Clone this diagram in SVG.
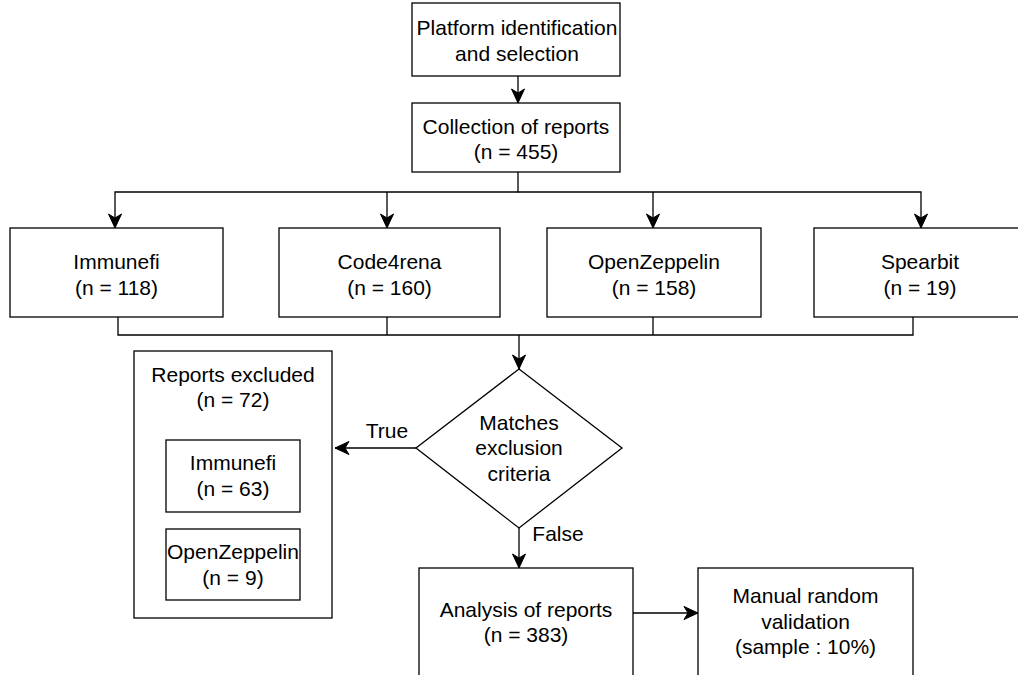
<svg xmlns="http://www.w3.org/2000/svg" width="1018" height="675" viewBox="0 0 1018 675">
<style>
.box{fill:#fff;stroke:#000;stroke-width:1.3}
.ln{fill:none;stroke:#000;stroke-width:1.3}
text{font-family:"Liberation Sans",Arial,sans-serif;font-size:21px;fill:#000;text-anchor:middle}
</style>
<defs>
<marker id="arr" markerUnits="userSpaceOnUse" markerWidth="16" markerHeight="16" viewBox="0 0 16 16" refX="15" refY="8" orient="auto">
<path d="M1,1.5 L15,8 L1,14.5 L5,8 Z" fill="#000" stroke="#000" stroke-width="1"/>
</marker>
</defs>
<rect width="1018" height="675" fill="#fff"/>
<g id="connectors">
<path class="ln" d="M518 76 V103" marker-end="url(#arr)"/>
<path class="ln" d="M518 172 V192 H115 V228" marker-end="url(#arr)"/>
<path class="ln" d="M518 192 H921 V228" marker-end="url(#arr)"/>
<path class="ln" d="M387 192 V228" marker-end="url(#arr)"/>
<path class="ln" d="M653 192 V228" marker-end="url(#arr)"/>
<path class="ln" d="M118 317 V335 H913 V317"/>
<path class="ln" d="M387 317 V335"/>
<path class="ln" d="M653 317 V335"/>
<path class="ln" d="M519 335 V369" marker-end="url(#arr)"/>
<path class="ln" d="M416 448 H335" marker-end="url(#arr)"/>
<path class="ln" d="M519 528 V568" marker-end="url(#arr)"/>
<path class="ln" d="M633 613 H698" marker-end="url(#arr)"/>
<text x="387" y="438">True</text>
<text x="558" y="541">False</text>
</g>
<g id="platform">
<rect class="box" x="412" y="3" width="208" height="73"/>
<text x="517" y="35">Platform identification</text>
<text x="517" y="61">and selection</text>
</g>
<g id="collection">
<rect class="box" x="412" y="103" width="208" height="69"/>
<text x="516" y="134">Collection of reports</text>
<text x="516" y="159">(n = 455)</text>
</g>
<g id="immunefi">
<rect class="box" x="10" y="228" width="213" height="89"/>
<text x="116.5" y="269">Immunefi</text>
<text x="116.5" y="295">(n = 118)</text>
</g>
<g id="code4rena">
<rect class="box" x="279" y="228" width="221" height="89"/>
<text x="389.5" y="269">Code4rena</text>
<text x="389.5" y="295">(n = 160)</text>
</g>
<g id="openzeppelin">
<rect class="box" x="547" y="228" width="214" height="89"/>
<text x="654" y="269">OpenZeppelin</text>
<text x="654" y="295">(n = 158)</text>
</g>
<g id="spearbit">
<rect class="box" x="814" y="228" width="212" height="89"/>
<text x="920" y="269">Spearbit</text>
<text x="920" y="295">(n = 19)</text>
</g>
<g id="excluded">
<rect class="box" x="134" y="351" width="198" height="267"/>
<text x="233" y="382">Reports excluded</text>
<text x="233" y="407">(n = 72)</text>
</g>
<g id="excluded-immunefi">
<rect class="box" x="166" y="440" width="134" height="72"/>
<text x="233" y="470">Immunefi</text>
<text x="233" y="496">(n = 63)</text>
</g>
<g id="excluded-openzeppelin">
<rect class="box" x="166" y="529" width="134" height="71"/>
<text x="233" y="559">OpenZeppelin</text>
<text x="233" y="585">(n = 9)</text>
</g>
<g id="decision">
<polygon class="box" points="519,369 622,448 519,528 416,448"/>
<text x="519" y="430">Matches</text>
<text x="519" y="455">exclusion</text>
<text x="519" y="481">criteria</text>
</g>
<g id="analysis">
<rect class="box" x="419" y="568" width="214" height="108"/>
<text x="526" y="617">Analysis of reports</text>
<text x="526" y="642">(n = 383)</text>
</g>
<g id="validation">
<rect class="box" x="698" y="568" width="215" height="108"/>
<text x="805.5" y="603">Manual random</text>
<text x="805.5" y="629">validation</text>
<text x="805.5" y="654">(sample : 10%)</text>
</g>
</svg>
